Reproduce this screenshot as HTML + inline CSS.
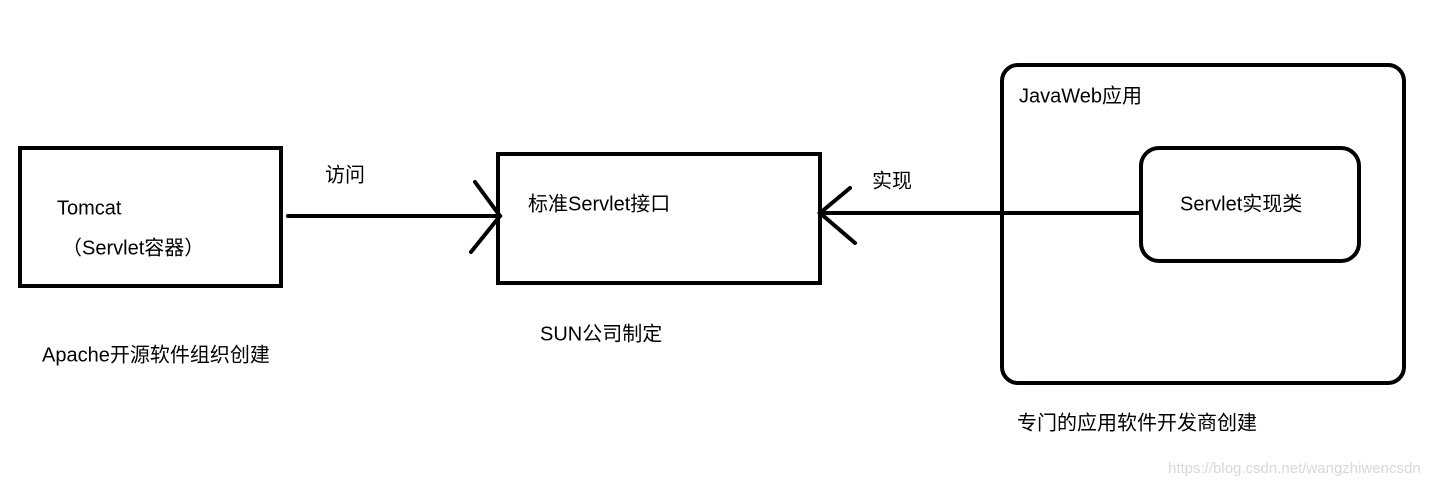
<!DOCTYPE html>
<html><head><meta charset="utf-8"><style>
html,body{margin:0;padding:0;background:#fff;}
svg{display:block}
text{font-family:"Liberation Sans","Noto Sans CJK SC",sans-serif;font-size:20px;fill:#000;dominant-baseline:middle}
</style></head><body>
<svg width="1444" height="487" viewBox="0 0 1444 487" xmlns="http://www.w3.org/2000/svg">
<g fill="none" stroke="#000" stroke-width="4" stroke-linecap="round">
<rect x="20" y="148" width="261" height="138"/>
<rect x="498" y="154" width="322" height="129"/>
<rect x="1002" y="65" width="402" height="318" rx="16"/>
<rect x="1141" y="148" width="218" height="113" rx="18"/>
<line x1="288" y1="216" x2="500" y2="216"/>
<polyline points="475,182 500,216 471,252"/>
<line x1="822" y1="213" x2="1141" y2="213"/>
<polyline points="850,188 820,213 855,243"/>
</g>
<text x="57" y="209">Tomcat</text>
<text x="62" y="249">（Servlet容器）</text>
<text x="325" y="176">访问</text>
<text x="528" y="205">标准Servlet接口</text>
<text x="872" y="182">实现</text>
<text x="1019" y="97">JavaWeb应用</text>
<text x="1180" y="205">Servlet实现类</text>
<text x="540" y="335">SUN公司制定</text>
<text x="42" y="356">Apache开源软件组织创建</text>
<text x="1017" y="424">专门的应用软件开发商创建</text>
<text x="1168" y="469" style="font-size:15px;fill:#d8d8d8">https://blog.csdn.net/wangzhiwencsdn</text>
</svg>
</body></html>
